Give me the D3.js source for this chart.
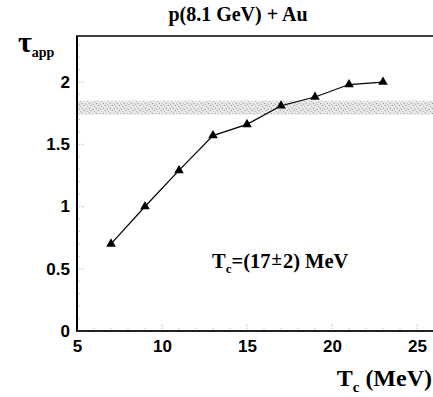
<!DOCTYPE html>
<html>
<head>
<meta charset="utf-8">
<script src="https://cdn.jsdelivr.net/npm/d3@7/dist/d3.min.js"></script>
<style>
  html, body { margin: 0; padding: 0; background: #fff; }
  svg { display: block; }
  .tick text { font-family: "Liberation Sans", Arial, sans-serif; font-weight: bold; font-size: 17px; fill: #000; }
  .serif { font-family: "Liberation Serif", "Times New Roman", serif; font-weight: bold; fill: #000; }
</style>
</head>
<body>
<svg id="chart" width="433" height="397"></svg>
<script>
// Apparent emission time vs. critical temperature
const tcValues  = [7, 9, 11, 13, 15, 17, 19, 21, 23];
const tauValues = [0.70, 1.00, 1.29, 1.57, 1.66, 1.81, 1.88, 1.98, 2.00];
const xTicks = [5, 10, 15, 20, 25];
const yTicks = [0, 0.5, 1, 1.5, 2];
const yTickLabels = ["0", "0.5", "1", "1.5", "2"];
// Experimental band for tau_app
const bandLow = 1.74, bandHigh = 1.85;

const svg = d3.select("#chart");
const mLeft = 77, mRight = 434, mTop = 36, mBottom = 331;

const x = d3.scaleLinear().domain([5, 26]).range([mLeft, mRight]);
const y = d3.scaleLinear().domain([0, 2.37]).range([mBottom, mTop]);

// stippled pattern for the band
const defs = svg.append("defs");
const pat = defs.append("pattern").attr("id", "stipple")
  .attr("patternUnits", "userSpaceOnUse").attr("width", 7).attr("height", 5);
pat.append("rect").attr("width", 7).attr("height", 5).attr("fill", "#e8e8e8");
const dots = [[0,0,"#a0a0a0"],[3,1,"#b4b4b4"],[5,3,"#9c9c9c"],[1,3,"#c0c0c0"],[6,0,"#c8c8c8"],[2,4,"#aaaaaa"],[4,2,"#d0d0d0"]];
dots.forEach(([dx, dy, c]) => pat.append("rect").attr("x", dx).attr("y", dy).attr("width", 1).attr("height", 1).attr("fill", c));

svg.append("rect")
  .attr("x", x(5)).attr("width", x(26) - x(5))
  .attr("y", y(bandHigh)).attr("height", y(bandLow) - y(bandHigh))
  .attr("fill", "url(#stipple)");

// axes (labels only; faint ticks drawn below)
const xAxis = d3.axisBottom(x).tickValues(xTicks).tickFormat(d3.format("d")).tickSize(0).tickPadding(9);
const gx = svg.append("g").attr("transform", `translate(0,${mBottom})`).call(xAxis);
gx.select(".domain").remove();

const yAxis = d3.axisLeft(y).tickValues(yTicks).tickFormat((d, i) => yTickLabels[i]).tickSize(0).tickPadding(7);
const gy = svg.append("g").attr("transform", `translate(${mLeft},0)`).call(yAxis);
gy.select(".domain").remove();

// minor tick marks
const yMinor = d3.range(0, 2.35, 0.1);
svg.append("g").selectAll("line").data(yMinor).join("line")
  .attr("x1", mLeft).attr("x2", (d, i) => mLeft + (i % 5 === 0 ? 8 : 4))
  .attr("y1", d => y(d)).attr("y2", d => y(d))
  .attr("stroke", "#bbb").attr("stroke-width", 1).attr("stroke-dasharray", "1,1");
const xMinor = d3.range(5, 26, 1);
svg.append("g").selectAll("line").data(xMinor).join("line")
  .attr("x1", d => x(d)).attr("x2", d => x(d))
  .attr("y1", mBottom).attr("y2", (d, i) => mBottom - (i % 5 === 0 ? 8 : 4))
  .attr("stroke", "#bbb").attr("stroke-width", 1).attr("stroke-dasharray", "1,1");

// frame lines
svg.append("line").attr("x1", mLeft).attr("x2", mLeft).attr("y1", mTop).attr("y2", mBottom + 1)
  .attr("stroke", "#000").attr("stroke-width", 2);
svg.append("line").attr("x1", mLeft - 1).attr("x2", mRight).attr("y1", mBottom).attr("y2", mBottom)
  .attr("stroke", "#222").attr("stroke-width", 2);
svg.append("line").attr("x1", mLeft - 1).attr("x2", mRight).attr("y1", mTop).attr("y2", mTop)
  .attr("stroke", "#000").attr("stroke-width", 1.5);

// data line and markers
const pts = tcValues.map((t, i) => [t, tauValues[i]]);
svg.append("path").datum(pts)
  .attr("fill", "none").attr("stroke", "#000").attr("stroke-width", 1.2)
  .attr("d", d3.line().x(d => x(d[0])).y(d => y(d[1])));
svg.append("g").selectAll("path").data(pts).join("path")
  .attr("transform", d => `translate(${x(d[0])},${y(d[1])})`)
  .attr("d", d3.symbol().type(d3.symbolTriangle).size(40))
  .attr("fill", "#000");

// title
svg.append("text").attr("class", "serif").attr("x", 238).attr("y", 21)
  .attr("text-anchor", "middle").attr("font-size", 20).text("p(8.1 GeV) + Au");

// y label
const yl = svg.append("text").attr("class", "serif").attr("x", 18).attr("y", 52).attr("font-size", 30);
yl.append("tspan").text("τ");
yl.append("tspan").attr("font-size", 14).attr("dy", 5).text("app");

// x label
const xl = svg.append("text").attr("class", "serif").attr("x", 432).attr("y", 386)
  .attr("text-anchor", "end").attr("font-size", 24);
xl.append("tspan").text("T");
xl.append("tspan").attr("font-size", 15).attr("dy", 6).text("c");
xl.append("tspan").attr("dy", -6).text(" (MeV)");

// annotation
const an = svg.append("text").attr("class", "serif").attr("x", 212).attr("y", 268).attr("font-size", 20.5);
an.append("tspan").text("T");
an.append("tspan").attr("font-size", 13).attr("dy", 5).text("c");
an.append("tspan").attr("dy", -5).text("=(17");
an.append("tspan").attr("font-size", 19).attr("dy", -3).attr("dx", 1).text("±");
an.append("tspan").attr("dy", 3).attr("dx", 1).text("2) MeV");
</script>
</body>
</html>
